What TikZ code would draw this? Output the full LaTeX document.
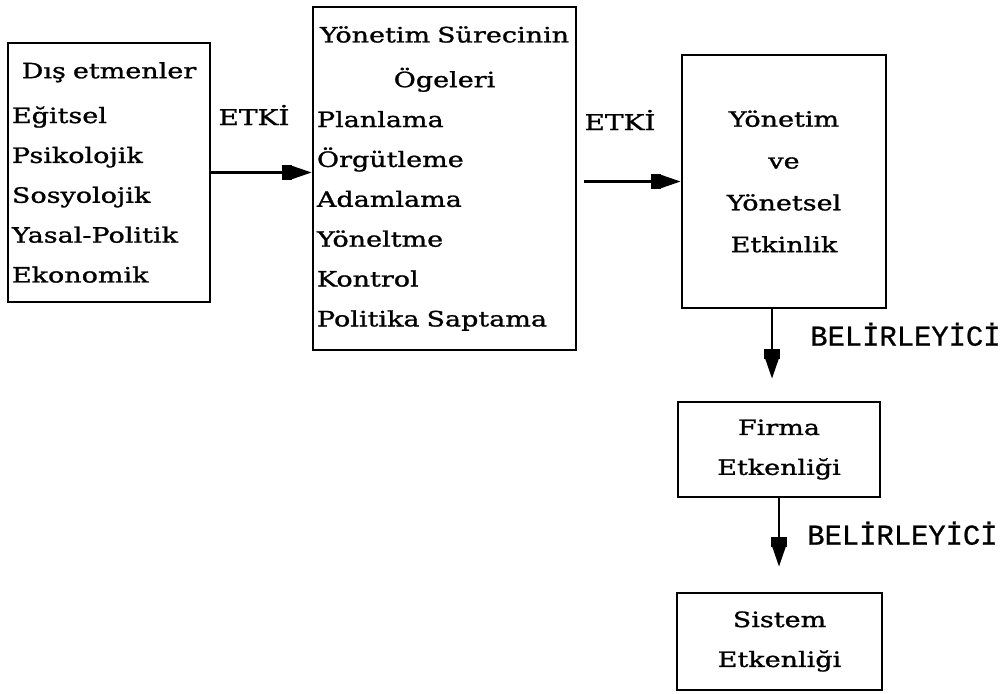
\documentclass[tikz,border=0pt]{standalone}
\usepackage{fontspec}
\setmainfont{DejaVu Serif}[FakeStretch=1.28, FakeBold=1.2]
\newfontfamily\monofont{Liberation Mono}[FakeBold=0.8]
\usepackage{tikz}
\usetikzlibrary{arrows.meta, positioning, calc}
\newcommand{\boxfont}{\fontsize{15}{28.35}\selectfont}
\newcommand{\midline}[1]{\makebox[\linewidth]{#1}}
\tikzset{
  box/.style={rectangle, draw=black, line width=1.8pt,
    inner xsep=0.1cm, inner ysep=0pt, font=\boxfont},
  leftbox/.style={box, align=left},
  midbox/.style={box, align=center},
  etki/.style={font=\fontsize{15.5}{18}\selectfont, inner sep=0pt},
  belir/.style={font=\monofont\fontsize{20.5}{24}\selectfont, inner sep=0pt},
  arrow/.style={-{Rectangle[length=7pt,width=11pt]Triangle[length=14pt,width=9pt]},
    line width=1.8pt, color=black}
}

\begin{document}
\begin{tikzpicture}[x=0.025cm, y=-0.025cm]
  \useasboundingbox (0,0) rectangle (1003,694);

  % ── Boxes ───────────────────────────────────────────────────────────────────
  \node[leftbox, minimum width=5.05cm, minimum height=6.475cm, text width=4.85cm] (ext) at (109,172.5)
    {\midline{Dış etmenler}\\[3.5pt]
     Eğitsel\\ Psikolojik\\ Sosyolojik\\ Yasal-Politik\\ Ekonomik};
  \node[leftbox, minimum width=6.575cm, minimum height=8.575cm, text width=6.375cm] (elem) at (444.5,178.5)
    {\midline{Yönetim Sürecinin}\\[3.5pt]
     \midline{Ögeleri}\\
     Planlama\\ Örgütleme\\ Adamlama\\ Yöneltme\\ Kontrol\\ Politika Saptama};
  \node[midbox, minimum width=5.1cm, minimum height=6.325cm, text width=4.9cm] (eff) at (784,181.5)
    {Yönetim\\[1.4pt] ve\\[1.4pt] Yönetsel\\[1.4pt] Etkinlik};
  \node[midbox, minimum width=5.05cm, minimum height=2.375cm, text width=4.85cm] (firm) at (779,449.5)
    {Firma\\ Etkenliği};
  \node[midbox, minimum width=5.125cm, minimum height=2.425cm, text width=4.925cm] (sys) at (779.5,641.5)
    {Sistem\\ Etkenliği};

  % ── Connectors ──────────────────────────────────────────────────────────────
  \draw[arrow] (ext.east) -- (ext.east -| elem.west);
  \draw[arrow, shorten <=0.175cm] (elem.east |- eff.west) -- (eff.west);
  \coordinate (drop) at ($(eff.south)+(-12,0)$);
  \draw[arrow, shorten >=0.55cm] (drop) -- (drop |- firm.north);
  \draw[arrow, shorten >=0.625cm] (firm.south) -- (firm.south |- sys.north);

  % ── Labels ──────────────────────────────────────────────────────────────────
  \node[etki, anchor=west] (etki1) at ($(ext.east)+(7,-57.5)$) {ETKİ};
  \node[etki, anchor=west] (etki2) at ($(elem.east)+(7,-58.5)$) {ETKİ};
  \node[belir, anchor=west] (belir1) at ($(eff.south)+(26,25)$) {BELİRLEYİCİ};
  \node[belir, anchor=west] (belir2) at ($(firm.south)+(28,35)$) {BELİRLEYİCİ};
\end{tikzpicture}
\end{document}
